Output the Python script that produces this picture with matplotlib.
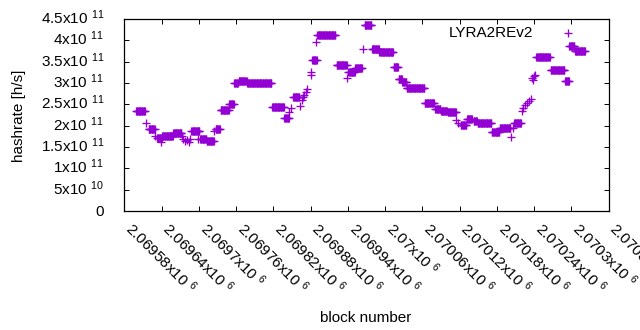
import numpy as np
import matplotlib
matplotlib.use("Agg")
import matplotlib.pyplot as plt
from matplotlib import transforms

plt.rcParams['font.family'] = ['Liberation Sans', 'DejaVu Sans']
plt.rcParams['mathtext.fontset'] = 'custom'
plt.rcParams['mathtext.rm'] = 'Liberation Sans'
plt.rcParams['mathtext.it'] = 'Liberation Sans:italic'
plt.rcParams['mathtext.bf'] = 'Liberation Sans:bold'
plt.rcParams['mathtext.default'] = 'regular'

# ---- data: runs of blocks with the same hashrate ----
run_start = [2069599, 2069615, 2069619, 2069630, 2069633, 2069639, 2069641, 2069659, 2069673,
             2069675, 2069678, 2069681, 2069684, 2069686, 2069688, 2069698, 2069702, 2069713,
             2069725, 2069727, 2069735, 2069749, 2069757, 2069764, 2069778, 2069818, 2069838,
             2069846, 2069849, 2069852, 2069863, 2069866, 2069868, 2069870, 2069873, 2069875,
             2069880, 2069881, 2069883, 2069889, 2069891, 2069922, 2069939, 2069941, 2069952,
             2069964, 2069967, 2069979, 2069991, 2070014, 2070022, 2070028, 2070035, 2070064,
             2070081, 2070090, 2070101, 2070115, 2070118, 2070122, 2070132, 2070143, 2070149,
             2070172, 2070185, 2070203, 2070206, 2070208, 2070220, 2070223, 2070225, 2070229,
             2070232, 2070235, 2070236, 2070238, 2070240, 2070242, 2070244, 2070267, 2070290,
             2070297, 2070306]
run_end = [2069613, 2069615, 2069629, 2069630, 2069640, 2069639, 2069658, 2069672, 2069673,
           2069675, 2069678, 2069681, 2069684, 2069686, 2069701, 2069698, 2069712, 2069724,
           2069725, 2069734, 2069748, 2069756, 2069763, 2069777, 2069817, 2069837, 2069845,
           2069846, 2069849, 2069862, 2069863, 2069866, 2069868, 2069870, 2069873, 2069875,
           2069880, 2069881, 2069890, 2069889, 2069920, 2069938, 2069939, 2069951, 2069963,
           2069964, 2069978, 2069990, 2070013, 2070021, 2070027, 2070034, 2070063, 2070079,
           2070089, 2070100, 2070114, 2070115, 2070118, 2070131, 2070140, 2070148, 2070171,
           2070184, 2070202, 2070203, 2070206, 2070219, 2070220, 2070223, 2070225, 2070229,
           2070232, 2070235, 2070236, 2070238, 2070240, 2070242, 2070265, 2070289, 2070296,
           2070305, 2070322]
run_value = [2.34e11, 2.06e11, 1.915e11, 1.76e11, 1.70e11, 1.62e11, 1.76e11, 1.82e11, 1.765e11,
             1.69e11, 1.64e11, 1.665e11, 1.62e11, 1.69e11, 1.87e11, 1.695e11, 1.68e11, 1.635e11,
             1.875e11, 1.915e11, 2.36e11, 2.50e11, 3.005e11, 3.04e11, 2.995e11, 2.43e11, 2.175e11,
             2.32e11, 2.415e11, 2.665e11, 2.46e11, 2.60e11, 2.665e11, 2.72e11, 2.78e11, 2.85e11,
             3.19e11, 3.26e11, 3.54e11, 3.97e11, 4.12e11, 3.415e11, 3.125e11, 3.265e11, 3.36e11,
             3.79e11, 4.35e11, 3.79e11, 3.72e11, 3.37e11, 3.095e11, 3.02e11, 2.875e11, 2.525e11,
             2.39e11, 2.345e11, 2.31e11, 2.13e11, 2.07e11, 2.01e11, 2.15e11, 2.11e11, 2.055e11,
             1.845e11, 1.94e11, 1.74e11, 1.94e11, 2.055e11, 2.35e11, 2.41e11, 2.485e11, 2.54e11,
             2.585e11, 2.62e11, 3.11e11, 3.07e11, 3.165e11, 3.19e11, 3.60e11, 3.305e11, 3.045e11,
             3.865e11, 3.745e11]

x_ticks = [2069580, 2069640, 2069700, 2069760, 2069820, 2069880, 2069940, 2070000,
           2070060, 2070120, 2070180, 2070240, 2070300, 2070360]
x_ticklabels = ['2.06958x10 $^{6}$', '2.06964x10 $^{6}$', '2.0697x10 $^{6}$', '2.06976x10 $^{6}$',
                '2.06982x10 $^{6}$', '2.06988x10 $^{6}$', '2.06994x10 $^{6}$', '2.07x10 $^{6}$',
                '2.07006x10 $^{6}$', '2.07012x10 $^{6}$', '2.07018x10 $^{6}$', '2.07024x10 $^{6}$',
                '2.0703x10 $^{6}$', '2.07036x10 $^{6}$']
y_ticks = [0, 5e10, 1e11, 1.5e11, 2e11, 2.5e11, 3e11, 3.5e11, 4e11, 4.5e11]
y_ticklabels = ['0', '5x10 $^{10}$', '1x10 $^{11}$', '1.5x10 $^{11}$', '2x10 $^{11}$',
                '2.5x10 $^{11}$', '3x10 $^{11}$', '3.5x10 $^{11}$', '4x10 $^{11}$', '4.5x10 $^{11}$']
series_name = 'LYRA2REv2'

# expand runs to one point per block
blocks = np.concatenate([np.arange(s, e + 1) for s, e in zip(run_start, run_end)])
rates = np.concatenate([np.full(e - s + 1, v) for s, e, v in zip(run_start, run_end, run_value)])

W, H, DPI = 640, 330, 100
fig = plt.figure(figsize=(W / DPI, H / DPI), dpi=DPI)
L, R, T, B = 124.3, 608.5, 19.0, 211.0
ax = fig.add_axes([L / W, 1 - B / H, (R - L) / W, (B - T) / H])

color = '#9400D3'
ms, mew = 5.4, 0.95
ax.plot(blocks, rates, linestyle='none', marker='+', ms=ms, mew=mew, color=color)

ax.set_xlim(2069580, 2070360)
ax.set_ylim(0, 4.5e11)
ax.set_xticks(x_ticks)
ax.set_yticks(y_ticks)
ax.tick_params(direction='in', length=3.3, width=0.7, top=True, right=True,
               labelbottom=False, labelleft=False)
for sp in ax.spines.values():
    sp.set_linewidth(0.9)

fs = 11
# x tick labels: rotated -45, starting at the tick
xtr = transforms.blended_transform_factory(ax.transData, ax.transAxes) + \
    transforms.ScaledTranslation(0, -19.2 / DPI, fig.dpi_scale_trans)
for xv, lab in zip(x_ticks, x_ticklabels):
    ax.text(xv, 0, lab, transform=xtr, rotation=-45, rotation_mode='anchor',
            ha='left', va='baseline', fontsize=fs, clip_on=False)

# y tick labels
ytr = transforms.blended_transform_factory(ax.transAxes, ax.transData) + \
    transforms.ScaledTranslation(-20.3 / DPI, -5.0 / DPI, fig.dpi_scale_trans)
for yv, lab in zip(y_ticks, y_ticklabels):
    ax.text(0, yv, lab, transform=ytr, ha='right', va='baseline', fontsize=fs, clip_on=False)

fig.text(23.3 / W, 1 - 116 / H, 'hashrate [h/s]', rotation=90, rotation_mode='anchor',
         ha='center', va='baseline', fontsize=fs)
fig.text(366 / W, 1 - 322.5 / H, 'block number', ha='center', va='baseline', fontsize=fs)

# key
fig.text(533.3 / W, 1 - 37.3 / H, series_name, ha='right', va='baseline', fontsize=fs)
ax.plot([(567.5 - L) / (R - L)], [(B - 32.7) / (B - T)], transform=ax.transAxes,
        linestyle='none', marker='+', ms=ms, mew=mew, color=color, clip_on=False)

fig.savefig('out.png', dpi=DPI)
